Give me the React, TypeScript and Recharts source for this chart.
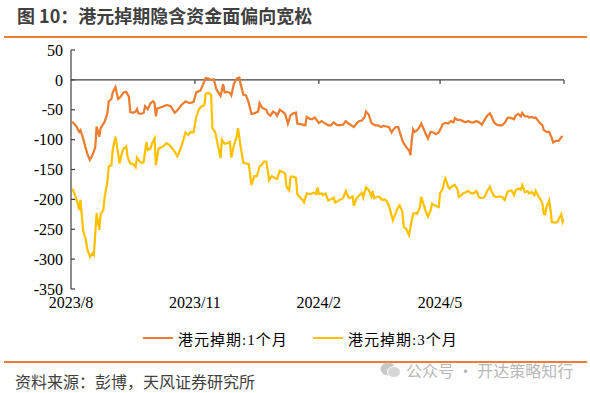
import React from 'react';
import { LineChart, Line, XAxis, YAxis, ReferenceLine } from 'recharts';

// 日期以 2023/8/1 起算的天数表示
const tickDays = [0, 92, 184, 274, 366];
const tickLabels = ['2023/8', '2023/11', '2024/2', '2024/5', ''];
const yTicks = [50, 0, -50, -100, -150, -200, -250, -300, -350];

const seriesNames = ['港元掉期:1个月', '港元掉期:3个月'];
const seriesColors = ['#ED7D31', '#FFC000'];

// [天数, 数值]
const swap1m: [number, number][] = [
  [1, -70], [4, -78], [6, -87], [7, -84], [9, -98], [11, -115], [12, -123], [14, -134], [16, -126], [18, -113],
  [19, -78], [21, -95], [22, -81], [25, -70], [27, -56], [28, -36], [30, -32], [31, -21], [33, -12], [35, -32],
  [37, -28], [39, -21], [41, -20], [43, -28], [44, -54], [46, -55], [48, -53], [49, -49], [50, -56], [52, -57],
  [54, -55], [55, -44], [57, -49], [59, -39], [61, -36], [62, -39], [63, -61], [64, -48], [68, -45], [71, -42],
  [74, -44], [77, -55], [79, -51], [82, -42], [85, -36], [88, -39], [91, -37], [93, -21], [96, -18], [98, -8],
  [100, 3], [102, 2], [104, 0], [106, 1], [108, -16], [110, -23], [111, -27], [113, -7], [114, -21], [116, -20],
  [118, -22], [119, -26], [121, -6], [123, 2], [125, 4], [126, -8], [128, -25], [130, -26], [132, -39], [134, -57],
  [136, -56], [139, -53], [140, -39], [142, -47], [145, -50], [146, -56], [148, -60], [150, -53], [152, -56], [153, -60],
  [155, -50], [157, -53], [159, -57], [161, -73], [163, -59], [165, -56], [167, -55], [168, -73], [170, -74], [172, -75],
  [174, -76], [175, -62], [177, -65], [179, -66], [181, -63], [182, -66], [184, -72], [186, -69], [188, -72], [191, -76],
  [193, -76], [195, -71], [197, -75], [199, -76], [202, -75], [204, -69], [206, -73], [208, -76], [210, -79], [212, -73],
  [214, -69], [216, -68], [218, -62], [219, -53], [221, -58], [223, -72], [224, -74], [226, -76], [228, -76], [230, -79],
  [232, -77], [234, -78], [236, -79], [238, -88], [239, -84], [241, -79], [243, -79], [244, -87], [246, -101], [247, -106],
  [249, -113], [251, -118], [252, -126], [253, -101], [254, -83], [255, -87], [257, -84], [259, -78], [260, -73], [262, -83],
  [263, -89], [265, -98], [267, -87], [269, -88], [271, -91], [273, -88], [275, -79], [276, -74], [278, -72], [280, -73],
  [282, -69], [284, -71], [285, -64], [287, -67], [289, -67], [291, -69], [293, -71], [295, -69], [297, -71], [299, -71],
  [301, -69], [303, -71], [305, -75], [307, -67], [309, -60], [311, -56], [312, -60], [314, -71], [316, -75], [318, -76],
  [320, -76], [322, -72], [324, -64], [325, -63], [327, -64], [329, -66], [330, -60], [332, -57], [334, -61], [335, -55],
  [337, -61], [339, -61], [340, -63], [342, -62], [344, -64], [345, -63], [347, -69], [348, -72], [350, -76], [351, -84],
  [353, -87], [355, -87], [357, -98], [358, -105], [360, -102], [362, -102], [364, -96], [365, -94],
];

const swap3m: [number, number][] = [
  [1, -182], [3, -193], [5, -207], [6, -218], [7, -201], [9, -252], [11, -268], [12, -282], [14, -296], [16, -290],
  [17, -293], [18, -257], [19, -223], [21, -251], [22, -224], [24, -218], [25, -196], [27, -171], [28, -145], [30, -143],
  [31, -117], [33, -95], [35, -123], [36, -140], [38, -121], [39, -115], [41, -111], [42, -129], [44, -140], [46, -140],
  [48, -146], [49, -130], [51, -137], [53, -139], [54, -137], [56, -104], [57, -117], [59, -115], [60, -107], [62, -98],
  [63, -143], [65, -115], [68, -112], [71, -106], [73, -109], [76, -117], [79, -128], [81, -117], [83, -104], [85, -88],
  [87, -92], [89, -87], [91, -88], [93, -62], [95, -49], [97, -44], [99, -42], [100, -23], [102, -22], [104, -25],
  [105, -81], [107, -87], [109, -109], [111, -131], [112, -100], [114, -107], [116, -106], [118, -104], [119, -130], [121, -109],
  [123, -95], [124, -81], [126, -113], [128, -139], [130, -140], [132, -141], [134, -176], [136, -161], [138, -161], [140, -145],
  [141, -144], [143, -137], [145, -137], [146, -151], [147, -168], [149, -161], [151, -164], [153, -166], [155, -152], [157, -154],
  [159, -157], [160, -179], [162, -185], [163, -162], [165, -162], [167, -164], [168, -191], [170, -197], [172, -201], [173, -205],
  [175, -190], [176, -191], [178, -191], [180, -189], [182, -191], [183, -180], [184, -191], [186, -190], [187, -193], [189, -190],
  [191, -202], [193, -200], [195, -197], [196, -205], [198, -203], [200, -200], [202, -198], [204, -186], [206, -196], [207, -198],
  [209, -195], [210, -211], [212, -198], [214, -193], [216, -189], [217, -197], [219, -180], [221, -184], [223, -195], [224, -186],
  [225, -198], [227, -196], [229, -196], [231, -201], [233, -200], [234, -202], [236, -210], [238, -227], [239, -235], [241, -223],
  [243, -213], [244, -210], [246, -221], [247, -246], [249, -250], [251, -260], [253, -235], [254, -224], [256, -223], [257, -224],
  [259, -213], [260, -196], [262, -210], [263, -218], [265, -229], [267, -218], [268, -207], [270, -210], [271, -211], [273, -213],
  [274, -190], [276, -182], [277, -171], [278, -165], [280, -179], [281, -182], [283, -178], [285, -176], [287, -184], [288, -196],
  [290, -193], [291, -190], [293, -188], [295, -186], [297, -190], [299, -190], [301, -186], [303, -197], [305, -198], [307, -196],
  [309, -186], [311, -179], [312, -185], [314, -195], [316, -196], [318, -195], [320, -196], [322, -201], [324, -188], [325, -186],
  [327, -185], [329, -193], [330, -185], [332, -182], [334, -184], [335, -176], [337, -188], [339, -186], [340, -190], [342, -188],
  [344, -193], [345, -186], [347, -195], [348, -198], [350, -207], [351, -224], [352, -225], [353, -213], [355, -202], [356, -218],
  [357, -238], [359, -239], [361, -238], [363, -229], [364, -225], [365, -238], [366, -233],
];

const toRows = (pts: [number, number][]) => pts.map(([day, value]) => ({ day, value }));

const axisColor = '#404040';
const tickFont = { fontSize: 16, fontFamily: '"Liberation Serif", "Times New Roman", serif', fill: '#000' };

const App: React.FC = () => {
  const series = [toRows(swap1m), toRows(swap3m)];
  return (
    <div style={{ position: 'absolute', left: 0, top: 0, width: 590, height: 393, background: '#fff', overflow: 'hidden' }}>
      <div
        style={{
          position: 'absolute', left: 17, top: 3, fontSize: 18, fontWeight: 700, color: '#404040',
          fontFamily: '"Noto Sans CJK SC", "Noto Sans", sans-serif', lineHeight: '24px', whiteSpace: 'nowrap',
        }}
      >
        图 10：港元掉期隐含资金面偏向宽松
      </div>
      <div style={{ position: 'absolute', left: 4, top: 36, width: 583, height: 2, background: '#ED7D31' }} />

      <div style={{ position: 'absolute', left: 0, top: 40 }}>
        <LineChart width={590} height={280} margin={{ top: 10, right: 26, bottom: 0, left: 0 }}>
          <XAxis
            dataKey="day"
            type="number"
            domain={[0, 366]}
            ticks={tickDays}
            tickFormatter={(d: number) => tickLabels[tickDays.indexOf(d)] ?? ''}
            axisLine={false}
            tickLine={false}
            tickSize={0}
            tickMargin={8}
            height={31}
            tick={tickFont}
            interval={0}
            allowDataOverflow
          />
          <YAxis
            type="number"
            domain={[-350, 50]}
            ticks={yTicks}
            width={71}
            interval={0}
            tick={tickFont}
            tickSize={-4}
            tickMargin={12}
            axisLine={{ stroke: axisColor, strokeWidth: 1.2 }}
            tickLine={{ stroke: axisColor, strokeWidth: 1.2 }}
          />
          <ReferenceLine y={0} stroke={axisColor} strokeWidth={1.2} />
          {tickDays.slice(1).map((d) => (
            <ReferenceLine
              key={d}
              segment={[{ x: d, y: 0 }, { x: d, y: -7 }]}
              stroke={axisColor}
              strokeWidth={1.2}
            />
          ))}
          {series.map((rows, i) => (
            <Line
              key={seriesNames[i]}
              data={rows}
              dataKey="value"
              name={seriesNames[i]}
              type="linear"
              stroke={seriesColors[i]}
              strokeWidth={2.25}
              dot={false}
              isAnimationActive={false}
            />
          ))}
        </LineChart>
      </div>

      {seriesNames.map((name, i) => (
        <div
          key={name}
          style={{
            position: 'absolute', left: i === 0 ? 143 : 313, top: 328, height: 20, display: 'flex', alignItems: 'center',
            fontSize: 15, letterSpacing: 1, color: '#000',
            fontFamily: '"Liberation Serif", "Noto Sans CJK SC", serif', whiteSpace: 'nowrap',
          }}
        >
          <span style={{ display: 'inline-block', width: 30, height: 2.5, background: seriesColors[i], marginRight: 5 }} />
          {name}
        </div>
      ))}

      <div style={{ position: 'absolute', left: 4, top: 361, width: 583, height: 2, background: '#ED7D31' }} />
      <div
        style={{
          position: 'absolute', left: 15, top: 370, fontSize: 16, color: '#404040',
          fontFamily: '"Noto Sans CJK SC", sans-serif', lineHeight: '22px', whiteSpace: 'nowrap',
        }}
      >
        资料来源：彭博，天风证券研究所
      </div>
      <svg style={{ position: 'absolute', left: 380, top: 361 }} width={22} height={18}>
        <ellipse cx={8} cy={8} rx={7.5} ry={6.5} fill="#c8c8c8" />
        <ellipse cx={14} cy={11} rx={6.5} ry={5.5} fill="#d6d6d6" stroke="#fff" strokeWidth={1} />
      </svg>
      <div
        style={{
          position: 'absolute', left: 406, top: 359, fontSize: 16, color: '#b8b8b8',
          fontFamily: '"Noto Sans CJK SC", sans-serif', lineHeight: '22px', whiteSpace: 'nowrap',
        }}
      >
        公众号 · 开达策略知行
      </div>
    </div>
  );
};

export default App;
